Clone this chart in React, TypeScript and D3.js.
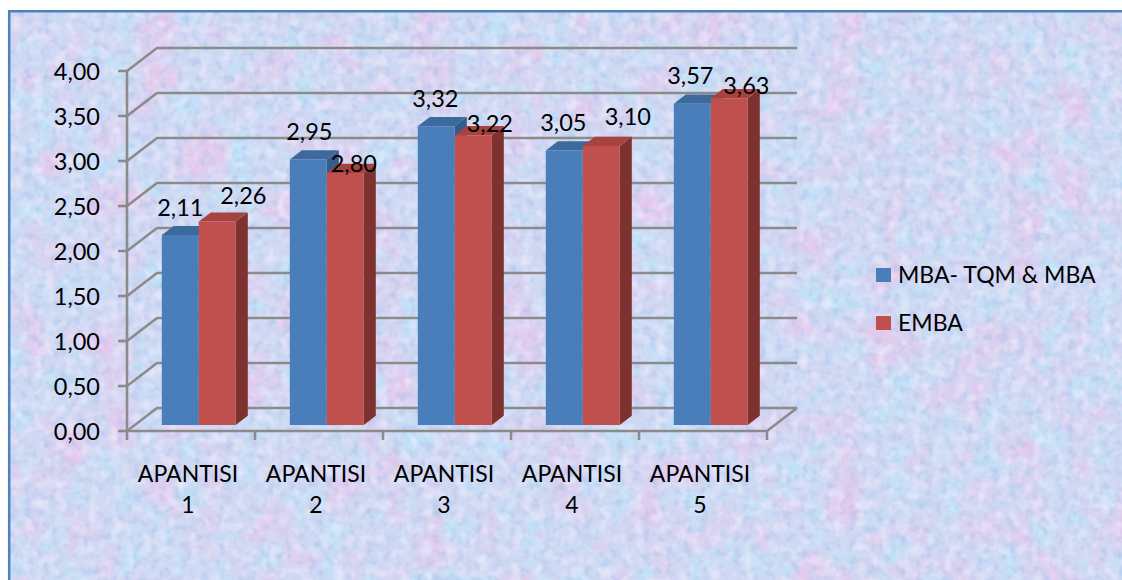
import React from "react";
import * as d3 from "d3";

// Categories, series and axis ticks
const categories = ["APANTISI 1", "APANTISI 2", "APANTISI 3", "APANTISI 4", "APANTISI 5"];
const seriesNames = ["MBA- TQM & MBA", "EMBA"];
const mbaValues = [2.11, 2.95, 3.32, 3.05, 3.57];
const embaValues = [2.26, 2.8, 3.22, 3.1, 3.63];
const yTicks = [0, 0.5, 1, 1.5, 2, 2.5, 3, 3.5, 4];

// Layout
const W = 1122;
const H = 580;
const plot = { left: 127, right: 767, top: 71, bottom: 431 };
const depth = { dx: 30, dy: -23 }; // full depth of the 3D box
const barDepth = { front: 0.26, back: 0.66 }; // bars sit inside the box depth
const barWidthRatio = 0.289;
const seriesColors = [
  { front: "#4A7EBB", top: "#3D6A9D", side: "#345C8A" },
  { front: "#C0504D", top: "#A6433F", side: "#7E3230" },
];
// Label nudges (dx, dy from the bar's front-top centre), per series
const labelNudges = [
  [[0, -19.5], [1, -19.5], [-1, -19.5], [-1, -19.5], [-2, -19.5]],
  [[26, -18], [8.5, -1], [16.5, -3], [26.5, -21], [17, -4.3]],
];
const FONT = "Lato, 'Open Sans', sans-serif";
const NUM_SIZE = 23.5;
const TEXT_SIZE = 23;

const fmt = (v: number) => d3.format(".2f")(v).replace(".", ",");

export default function App() {
  const y = d3.scaleLinear().domain([0, 4]).range([plot.bottom, plot.top]);
  const x = d3.scaleBand<string>().domain(categories).range([plot.left, plot.right]);
  const bw = x.bandwidth() * barWidthRatio;
  const xs = d3.scaleBand<string>().domain(seriesNames).range([-bw, bw]);
  const proj = (px: number, py: number, f: number): [number, number] => [
    px + depth.dx * f,
    py + depth.dy * f,
  ];
  const line = d3.line();
  const values = [mbaValues, embaValues];

  const gridColor = "#8B8B8B";
  const grid = yTicks.map((v) => {
    const p0: [number, number] = [plot.left, y(v)];
    const p1 = proj(plot.left, y(v), 1);
    const p2 = proj(plot.right, y(v), 1);
    return line([p0, p1, p2]) as string;
  });

  const bars: React.ReactNode[] = [];
  const labels: React.ReactNode[] = [];
  categories.forEach((cat, ci) => {
    const cx = (x(cat) as number) + x.bandwidth() / 2;
    seriesNames.forEach((s, si) => {
      const v = values[si][ci];
      const x0 = cx + (xs(s) as number);
      const x1 = x0 + xs.bandwidth();
      const yb = y(0);
      const yt = y(v);
      const f0 = barDepth.front;
      const f1 = barDepth.back;
      const A = proj(x0, yt, f0);
      const B = proj(x1, yt, f0);
      const C = proj(x1, yb, f0);
      const D = proj(x0, yb, f0);
      const Bt = proj(x1, yt, f1);
      const At = proj(x0, yt, f1);
      const Cb = proj(x1, yb, f1);
      const c = seriesColors[si];
      bars.push(
        <g key={`${ci}-${si}`}>
          <path d={line([B, Bt, Cb, C]) + "Z"} fill={c.side} />
          <path d={line([A, At, Bt, B]) + "Z"} fill={c.top} />
          <path d={line([A, B, C, D]) + "Z"} fill={c.front} />
        </g>
      );
      const [ndx, ndy] = labelNudges[si][ci];
      labels.push(
        <text
          key={`l-${ci}-${si}`}
          x={(A[0] + B[0]) / 2 + ndx}
          y={A[1] + ndy}
          textAnchor="middle"
          fontSize={NUM_SIZE}
          fontFamily={FONT}
          fill="#000"
        >
          {fmt(v)}
        </text>
      );
    });
  });

  const floorFront = line([
    [plot.left, plot.bottom],
    [plot.right, plot.bottom],
    proj(plot.right, plot.bottom, 1),
  ]) as string;

  return (
    <svg
      width={W}
      height={H}
      style={{ position: "fixed", left: 0, top: 0, display: "block" }}
    >
      <defs>
        <filter id="paper" x="0" y="0" width="1" height="1" colorInterpolationFilters="sRGB">
          <feFlood floodColor="#CFD9F3" result="base" />
          <feTurbulence type="fractalNoise" baseFrequency="0.022" numOctaves={4} seed={4} result="n1" />
          <feColorMatrix
            in="n1"
            type="matrix"
            values="0 0 0 0 0.90  0 0 0 0 0.79  0 0 0 0 0.93  3.0 0 0 0 -1.4"
            result="pink"
          />
          <feTurbulence type="fractalNoise" baseFrequency="0.035" numOctaves={4} seed={11} result="n2" />
          <feColorMatrix
            in="n2"
            type="matrix"
            values="0 0 0 0 0.75  0 0 0 0 0.89  0 0 0 0 0.97  0 3.0 0 0 -1.35"
            result="cyan"
          />
          <feTurbulence type="fractalNoise" baseFrequency="0.12" numOctaves={2} seed={21} result="n3" />
          <feColorMatrix
            in="n3"
            type="matrix"
            values="0 0 0 0 0.70  0 0 0 0 0.77  0 0 0 0 0.92  0 0 1.8 0 -0.82"
            result="grain"
          />
          <feGaussianBlur in="grain" stdDeviation="0.7" result="grainSoft" />
          <feTurbulence type="fractalNoise" baseFrequency="0.09" numOctaves={2} seed={33} result="n4" />
          <feColorMatrix
            in="n4"
            type="matrix"
            values="0 0 0 0 0.93  0 0 0 0 0.92  0 0 0 0 0.99  1.8 0 0 0 -0.8"
            result="light"
          />
          <feMerge result="merged">
            <feMergeNode in="base" />
            <feMergeNode in="cyan" />
            <feMergeNode in="pink" />
            <feMergeNode in="grainSoft" />
            <feMergeNode in="light" />
          </feMerge>
          <feGaussianBlur in="merged" stdDeviation="0.5" />
        </filter>
      </defs>
      <rect x={0} y={0} width={W} height={H} fill="#fff" />
      <rect x={8} y={10} width={W - 8} height={H - 10} fill="#CFD9F3" filter="url(#paper)" />
      <path d={`M9.2,${H}V11.2H${W}`} fill="none" stroke="#4F81BD" strokeWidth={2.5} />

      {/* walls: gridlines on the back and side */}
      <g stroke={gridColor} strokeWidth={2.6} fill="none" strokeLinejoin="round">
        {grid.map((d, i) => (
          <path key={i} d={d} />
        ))}
        <path d={floorFront} />
        <path d={`M${plot.left},${plot.top}V${plot.bottom}`} />
        {yTicks.map((v) => (
          <path key={`yt${v}`} d={`M${plot.left - 9},${y(v)}H${plot.left}`} />
        ))}
        {[...categories.map((c) => x(c) as number), plot.right].map((px, i) => (
          <path key={`xt${i}`} d={`M${px},${plot.bottom}V${plot.bottom + 9}`} />
        ))}
      </g>

      {bars}
      {labels}

      {/* y axis labels */}
      <g fontFamily={FONT} fontSize={NUM_SIZE} fill="#000" textAnchor="end">
        {yTicks.map((v) => (
          <text key={v} x={plot.left - 27} y={y(v) + 8.5}>
            {fmt(v)}
          </text>
        ))}
      </g>

      {/* category labels */}
      <g fontFamily={FONT} fontSize={TEXT_SIZE} fill="#000" textAnchor="middle">
        {categories.map((c) => {
          const cx = (x(c) as number) + x.bandwidth() / 2 - 3;
          const parts = c.split(" ");
          return (
            <text key={c} x={cx} y={482}>
              <tspan x={cx}>{parts[0]}</tspan>
              <tspan x={cx} dy={31}>
                {parts[1]}
              </tspan>
            </text>
          );
        })}
      </g>

      {/* legend */}
      <g fontFamily={FONT} fontSize={TEXT_SIZE} fill="#000">
        {seriesNames.map((s, i) => (
          <g key={s} transform={`translate(876,${268 + i * 48})`}>
            <rect width={15} height={14} fill={seriesColors[i].front} />
            <text x={22} y={15}>
              {s}
            </text>
          </g>
        ))}
      </g>
    </svg>
  );
}
